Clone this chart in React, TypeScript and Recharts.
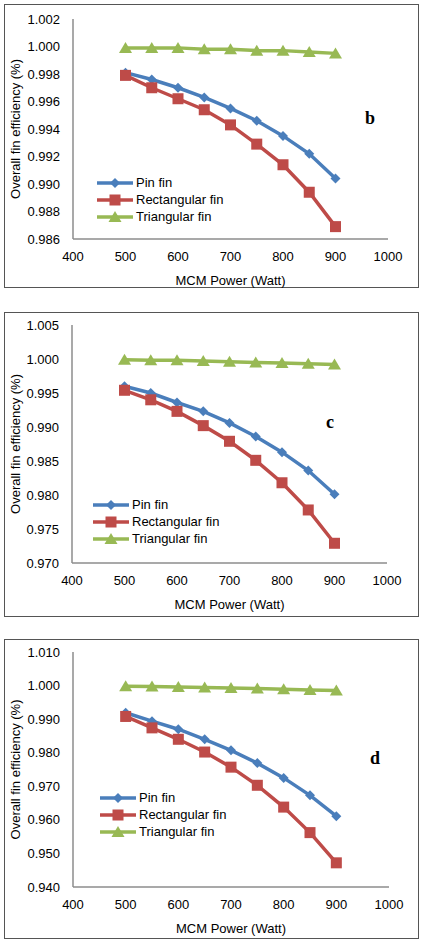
import React from 'react';
import { LineChart, Line, XAxis, YAxis, Legend } from 'recharts';

const power = [500, 550, 600, 650, 700, 750, 800, 850, 900];
const xTicks = [400, 500, 600, 700, 800, 900, 1000];

// panel b
const pinB = [0.9981, 0.9976, 0.997, 0.9963, 0.9955, 0.9946, 0.9935, 0.9922, 0.9904];
const rectB = [0.9979, 0.997, 0.9962, 0.9954, 0.9943, 0.9929, 0.9914, 0.9894, 0.9869];
const triB = [0.9999, 0.9999, 0.9999, 0.9998, 0.9998, 0.9997, 0.9997, 0.9996, 0.9995];
const yTicksB = [0.986, 0.988, 0.99, 0.992, 0.994, 0.996, 0.998, 1.0, 1.002];

// panel c
const pinC = [0.996, 0.995, 0.9936, 0.9923, 0.9906, 0.9886, 0.9863, 0.9836, 0.9801];
const rectC = [0.9954, 0.994, 0.9923, 0.9902, 0.9879, 0.9851, 0.9818, 0.9778, 0.9729];
const triC = [0.9999, 0.9998, 0.9998, 0.9997, 0.9996, 0.9995, 0.9994, 0.9993, 0.9992];
const yTicksC = [0.97, 0.975, 0.98, 0.985, 0.99, 0.995, 1.0, 1.005];

// panel d
const pinD = [0.9919, 0.9894, 0.987, 0.984, 0.9807, 0.9769, 0.9725, 0.9673, 0.9611];
const rectD = [0.9908, 0.9874, 0.984, 0.9802, 0.9757, 0.9703, 0.9638, 0.9562, 0.9472];
const triD = [0.9998, 0.9997, 0.9996, 0.9994, 0.9993, 0.9991, 0.9989, 0.9987, 0.9985];
const yTicksD = [0.94, 0.95, 0.96, 0.97, 0.98, 0.99, 1.0, 1.01];

const FONT = '"Liberation Sans", Arial, sans-serif';
const BLUE = '#4a7ebb';
const RED = '#be4b48';
const GREEN = '#98b954';
const AXIS = '#8c8c8c';

const seriesNames: Record<string, string> = {
  pin: 'Pin fin',
  rect: 'Rectangular fin',
  tri: 'Triangular fin',
};

const Marker = ({ kind, cx, cy, fill }: any) => {
  if (kind === 'pin') {
    const r = 5;
    return <path d={`M${cx},${cy - r}L${cx + r},${cy}L${cx},${cy + r}L${cx - r},${cy}Z`} fill={fill} />;
  }
  if (kind === 'rect') {
    const s = 5.5;
    return <rect x={cx - s} y={cy - s} width={s * 2} height={s * 2} fill={fill} />;
  }
  const w = 6.5;
  return <path d={`M${cx},${cy - 6}L${cx + w},${cy + 5}L${cx - w},${cy + 5}Z`} fill={fill} />;
};

const makeDot = (kind: string, fill: string) => (props: any) => (
  <Marker key={`${kind}-${props.index}`} kind={kind} cx={props.cx} cy={props.cy} fill={fill} />
);

const LegendBox = ({ payload }: any) => (
  <div style={{ fontFamily: FONT, fontSize: 13, color: '#000' }}>
    {(payload || []).map((p: any) => (
      <div key={p.dataKey} style={{ display: 'flex', alignItems: 'center', height: 17 }}>
        <svg width={37} height={14} style={{ marginRight: 2 }}>
          <line x1={0} y1={7} x2={36} y2={7} stroke={p.color} strokeWidth={3.5} />
          <Marker kind={p.dataKey} cx={18} cy={7} fill={p.color} />
        </svg>
        <span>{seriesNames[p.dataKey]}</span>
      </div>
    ))}
  </div>
);

const YLabel = ({ viewBox }: any) => {
  const cx = 17;
  const cy = viewBox.y + viewBox.height / 2;
  return (
    <text
      x={cx}
      y={cy}
      transform={`rotate(-90, ${cx}, ${cy})`}
      textAnchor="middle"
      dominantBaseline="middle"
      fontFamily={FONT}
      fontSize={13}
      fill="#000"
    >
      Overall fin efficiency (%)
    </text>
  );
};

interface PanelProps {
  top: number;
  height: number;
  plotTop: number;
  plotBottom: number;
  left: number;
  right: number;
  pin: number[];
  rect: number[];
  tri: number[];
  yTicks: number[];
  boxTop: number;
  boxBottom: number;
  legendX: number;
  legendY: number;
  letter: string;
  letterX: number;
  letterY: number;
}

function Panel(p: PanelProps) {
  const data = power.map((x, i) => ({ power: x, pin: p.pin[i], rect: p.rect[i], tri: p.tri[i] }));
  const xAxisHeight = 46;
  return (
    <>
      <div
        style={{
          position: 'absolute',
          left: 4,
          top: p.boxTop,
          width: 415,
          height: p.boxBottom - p.boxTop,
          border: '1.5px solid #555',
          boxSizing: 'border-box',
        }}
      />
      <div style={{ position: 'absolute', left: 0, top: p.top }}>
        <LineChart
          width={428}
          height={p.height}
          data={data}
          margin={{ top: p.plotTop, right: 428 - p.right, left: 0, bottom: p.height - p.plotBottom - xAxisHeight }}
        >
          <XAxis
            type="number"
            dataKey="power"
            domain={[400, 1000]}
            ticks={xTicks}
            tickLine={false}
            tickSize={0}
            tickMargin={13}
            height={xAxisHeight}
            axisLine={{ stroke: AXIS, strokeWidth: 1.5 }}
            tick={{ fill: '#000', fontSize: 13, fontFamily: FONT }}
            label={{
              value: 'MCM Power (Watt)',
              position: 'insideBottom',
              offset: 0,
              style: { fill: '#000', fontSize: 13, fontFamily: FONT },
            }}
          />
          <YAxis
            type="number"
            domain={[p.yTicks[0], p.yTicks[p.yTicks.length - 1]]}
            ticks={p.yTicks}
            width={p.left}
            tickLine={false}
            tickSize={0}
            tickMargin={13}
            axisLine={{ stroke: AXIS, strokeWidth: 1.5 }}
            tick={{ fill: '#000', fontSize: 13, fontFamily: FONT }}
            tickFormatter={(v: number) => v.toFixed(3)}
            label={<YLabel />}
          />
          <Legend
            layout="horizontal"
            verticalAlign="middle"
            align="center"
            content={<LegendBox />}
            wrapperStyle={{ left: p.legendX, top: p.legendY, width: 'auto' }}
          />
          <Line dataKey="pin" name="Pin fin" stroke={BLUE} strokeWidth={3.5} dot={makeDot('pin', BLUE)} activeDot={false} isAnimationActive={false} />
          <Line dataKey="rect" name="Rectangular fin" stroke={RED} strokeWidth={3.5} dot={makeDot('rect', RED)} activeDot={false} isAnimationActive={false} />
          <Line dataKey="tri" name="Triangular fin" stroke={GREEN} strokeWidth={3.5} dot={makeDot('tri', GREEN)} activeDot={false} isAnimationActive={false} />
        </LineChart>
      </div>
      <div
        style={{
          position: 'absolute',
          left: p.letterX - 10,
          top: p.letterY - 11,
          width: 20,
          textAlign: 'center',
          fontFamily: '"Liberation Serif", "Times New Roman", serif',
          fontWeight: 'bold',
          fontSize: 18,
          lineHeight: '22px',
        }}
      >
        {p.letter}
      </div>
    </>
  );
}

export default function App() {
  return (
    <div style={{ position: 'absolute', left: 0, top: 0, width: 428, height: 942, background: '#fff' }}>
      <Panel
        top={0} height={300} plotTop={19} plotBottom={239} left={73} right={388}
        pin={pinB} rect={rectB} tri={triB} yTicks={yTicksB}
        boxTop={4} boxBottom={288} legendX={97} legendY={174}
        letter="b" letterX={370} letterY={118}
      />
      <Panel
        top={310} height={310} plotTop={15} plotBottom={253} left={72} right={387}
        pin={pinC} rect={rectC} tri={triC} yTicks={yTicksC}
        boxTop={312} boxBottom={617} legendX={93} legendY={186}
        letter="c" letterX={330} letterY={422}
      />
      <Panel
        top={625} height={317} plotTop={27} plotBottom={262} left={73} right={389}
        pin={pinD} rect={rectD} tri={triD} yTicks={yTicksD}
        boxTop={639} boxBottom={939} legendX={100} legendY={164}
        letter="d" letterX={375} letterY={758}
      />
    </div>
  );
}
